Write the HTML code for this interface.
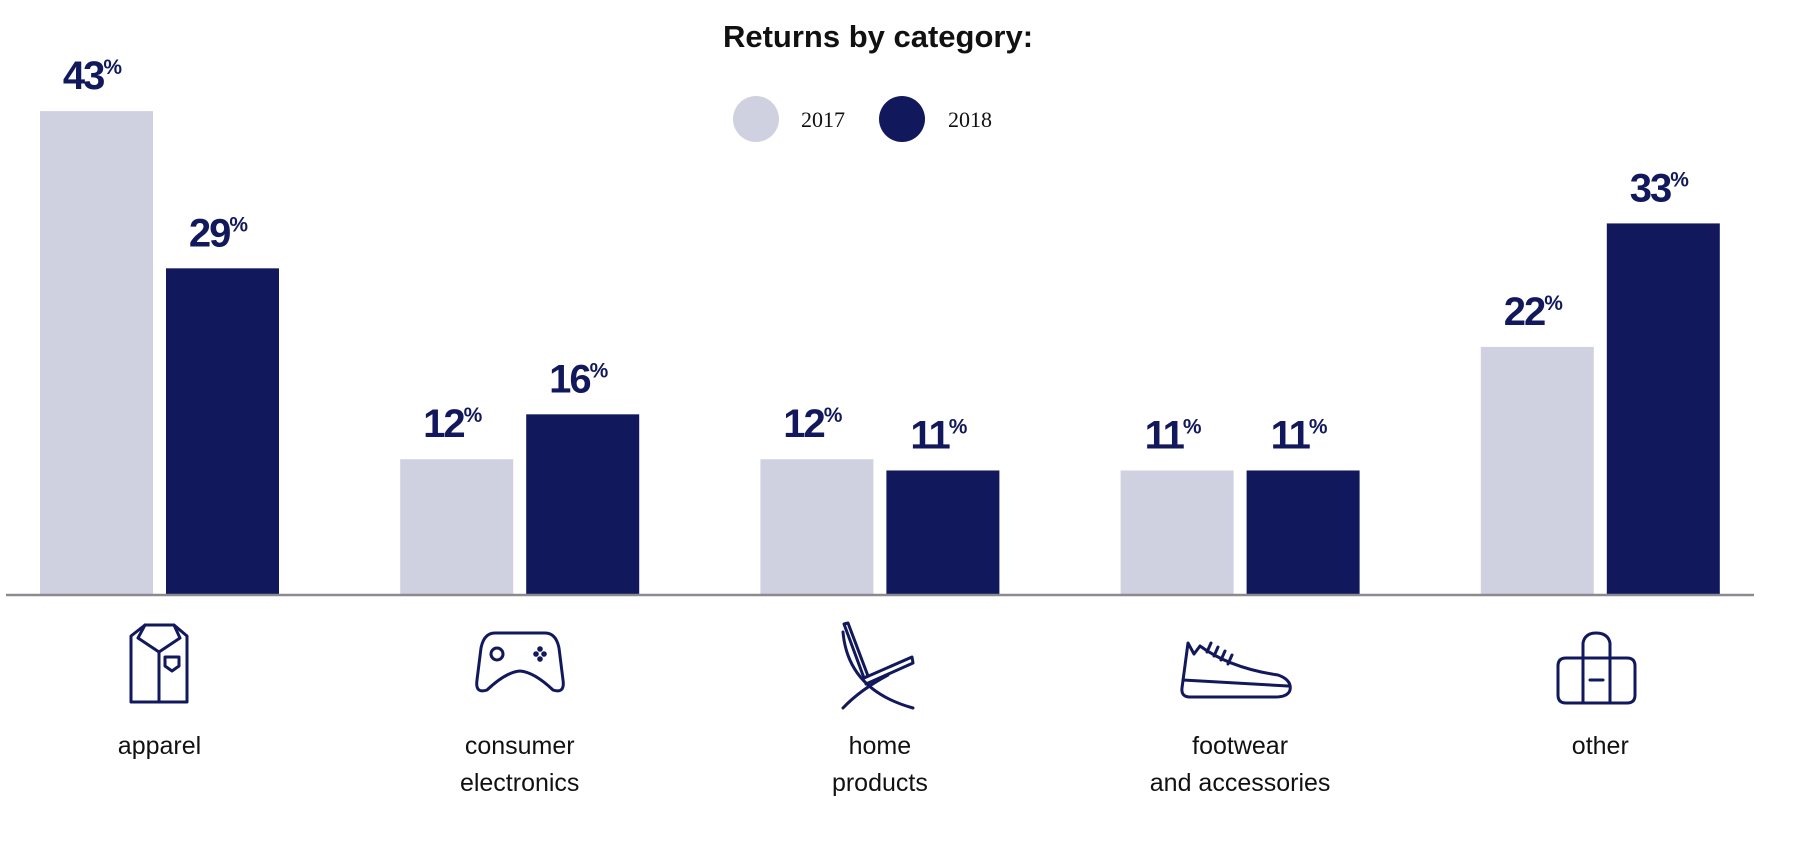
<!DOCTYPE html>
<html><head><meta charset="utf-8"><style>
html,body{margin:0;padding:0;background:#fff;}
svg{display:block;}
</style></head><body>
<svg width="1800" height="851" viewBox="0 0 1800 851" xmlns="http://www.w3.org/2000/svg">
<text x="878" y="47" text-anchor="middle" font-family="Liberation Sans, sans-serif" font-weight="bold" font-size="31" fill="#111">Returns by category:</text>
<g>
<circle cx="756" cy="119" r="23" fill="#cfd1e0"/>
<text x="801" y="127" font-family="Liberation Serif, serif" font-size="22" fill="#111">2017</text>
<circle cx="902" cy="119" r="23" fill="#12185c"/>
<text x="948" y="127" font-family="Liberation Serif, serif" font-size="22" fill="#111">2018</text>
</g>
<g id="bars"></g>
<line x1="6" y1="595" x2="1754" y2="595" stroke="#8a8a90" stroke-width="2.5"/>
<g fill="none" stroke="#12185c" stroke-width="3" stroke-linejoin="round" stroke-linecap="round">
<g>
<path d="M131 636 L145 625 L174 625 L187 636 L187 702 L131 702 Z"/>
<path d="M145 625 L138 638 L159 652 L180 638 L174 625"/><path d="M159 652 L159 702"/>
<path d="M165 657 L179 657 L179 666 L172 671 L165 666 Z"/>
</g>
<g>
<path d="M495 633 L545 633 Q556 633 559 648 L563 680 Q565 694 553 690 Q534 672 520 671 Q506 672 487 690 Q475 694 477 680 L481 648 Q484 633 495 633 Z"/>
<circle cx="497" cy="654" r="6"/>
<circle cx="540" cy="649" r="1.3" fill="#12185c"/><circle cx="536" cy="654" r="1.3" fill="#12185c"/><circle cx="544" cy="654" r="1.3" fill="#12185c"/><circle cx="540" cy="659" r="1.3" fill="#12185c"/>
</g>
<g>
<path d="M844 624 L848 623 L868 676 L864 678 Z"/>
<path d="M864 678 L912 657 L913 663 L866 684"/>
<path d="M843 632 Q848 690 913 708"/><path d="M888 675 Q860 690 843 708"/>
</g>
<g>
<path d="M1188 643 L1194 654 L1200 646 Q1230 668 1278 675 Q1292 680 1290 690 Q1288 697 1275 697 L1190 697 Q1181 697 1182 688 Z"/>
<path d="M1183 680 L1288 686"/><path d="M1207 652 L1211 643"/><path d="M1214 656 L1218 647"/><path d="M1221 660 L1225 651"/><path d="M1228 664 L1232 655"/>
</g>
<g>
<path d="M1566 658 L1627 658 Q1635 658 1635 666 L1635 695 Q1635 703 1627 703 L1566 703 Q1558 703 1558 695 L1558 666 Q1558 658 1566 658 Z"/>
<path d="M1583 658 L1583 643 Q1585 633 1596 633 Q1608 633 1610 643 L1610 658"/>
<path d="M1583 658 L1583 703 M1610 658 L1610 703"/><path d="M1590 680 L1603 680"/>
</g>
</g>
<g id="cats" font-family="Liberation Sans, sans-serif" font-size="25" fill="#111" text-anchor="middle"></g>
</svg>
<script>
const categories = ["apparel","consumer electronics","home products","footwear and accessories","other"];
const labelLines = [["apparel"],["consumer","electronics"],["home","products"],["footwear","and accessories"],["other"]];
const values2017 = [43,12,12,11,22];
const values2018 = [29,16,11,11,33];
const NS="http://www.w3.org/2000/svg";
const baseY=594, pxPer=11.23, groupStart=40, groupStep=360.2, barW=113, pairGap=126;
function yScale(v){return baseY - v*pxPer;}
function xScale(i,s){return groupStart + i*groupStep + s*pairGap;}
const bars=document.getElementById('bars');
const cats=document.getElementById('cats');
[values2017,values2018].forEach((series,s)=>{
  series.forEach((v,i)=>{
    const r=document.createElementNS(NS,'rect');
    r.setAttribute('x',xScale(i,s));r.setAttribute('y',yScale(v));
    r.setAttribute('width',barW);r.setAttribute('height',baseY-yScale(v)+1);
    r.setAttribute('fill',s?'#12185c':'#cfd1e0');
    
    
    bars.appendChild(r);
    const t=document.createElementNS(NS,'text');
    t.setAttribute('x',xScale(i,s)+barW/2-4);t.setAttribute('y',yScale(v)-22);
    t.setAttribute('text-anchor','middle');t.setAttribute('font-family','Liberation Sans, sans-serif');
    t.setAttribute('font-weight','bold');t.setAttribute('font-size','40');t.setAttribute('fill','#12185c');
    t.setAttribute('letter-spacing','-2');
    
    
    t.textContent=v;
    const p=document.createElementNS(NS,'tspan');
    p.setAttribute('font-size','21');p.setAttribute('dy','-15');p.setAttribute('dx','0');p.setAttribute('letter-spacing','0');
    p.textContent='%';t.appendChild(p);
    bars.appendChild(t);
  });
});
labelLines.forEach((lines,i)=>{
  const cx=xScale(i,0)+(pairGap+barW)/2;
  lines.forEach((ln,k)=>{
    const t=document.createElementNS(NS,'text');
    t.setAttribute('x',cx);t.setAttribute('y',754+k*37);
    
    
    t.textContent=ln;cats.appendChild(t);
  });
});
</script>
</body></html>
